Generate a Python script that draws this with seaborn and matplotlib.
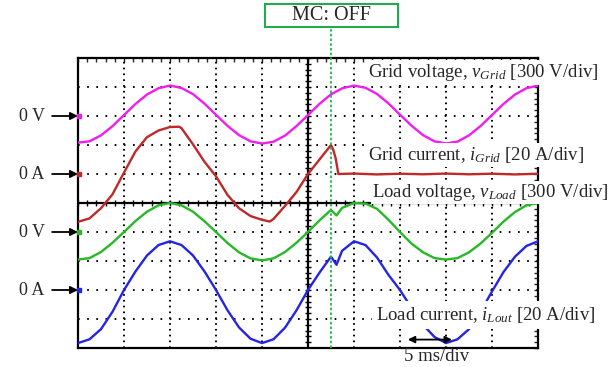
import numpy as np
import pandas as pd
import matplotlib
matplotlib.use("Agg")
import matplotlib.pyplot as plt
from matplotlib.patches import Rectangle
import seaborn as sns

# ---------------- data (read from the scope capture) ----------------
# time base in ms (5 ms/div, 10 divisions)
t_common_ms = np.arange(0, 50.01, 1.25)

v_grid_V = [-275, -262, -200, -105, 10, 125, 222, 287, 315, 290, 226, 128, 12, -102,
            -198, -262, -285, -266, -203, -104, 10, 126, 224, 288, 314, 292, 228, 130,
            14, -100, -198, -262, -284, -265, -200, -104, 10, 125, 222, 288, 314]

t_igrid_ms = [0, 1.25, 2.5, 3.75, 5, 6.25, 7.5, 8.75, 10, 11, 11.25, 12.5, 13.75, 15,
              16.25, 17.5, 18.75, 20, 20.85, 21.25, 22.5, 23.75, 25, 26.25, 27.5, 27.75,
              28, 28.3, 30, 32.5, 35, 37.5, 40, 42.5, 45, 47.5, 50]
i_grid_A = [-33, -30.6, -23.6, -14, 1, 15.6, 25.4, 30, 32.4, 32.6, 31.6, 20.4, 8.4, -1.6,
            -14.4, -23.6, -29, -31.6, -32.8, -31, -22, -12.4, 0, 10, 20, 16.6,
            11, 0, 0.3, -0.3, 0.2, -0.2, 0.3, -0.2, 0.2, -0.3, 0.2]

t_load_ms = [0, 1.25, 2.5, 3.75, 5, 6.25, 7.5, 8.75, 10, 11.25, 12.5, 13.75, 15, 16.25,
             17.5, 18.75, 20, 21.25, 22.5, 23.75, 25, 26.25, 27.5, 28.1, 28.7, 30, 31.25,
             32.5, 33.75, 35, 36.25, 37.5, 38.75, 40, 41.25, 42.5, 43.75, 45, 46.25,
             47.5, 48.75, 50]
v_load_V = [-285, -270, -207, -111, 0, 114, 210, 276, 300, 276, 210, 111, 0, -114,
            -210, -273, -294, -273, -207, -111, 0, 120, 228, 171, 249, 300, 294,
            240, 126, 0, -120, -210, -270, -285, -270, -210, -120, -9, 108,
            207, 276, 300]
i_lout_A = [-36.6, -34, -27, -15, 0, 12.8, 23.8, 31, 33.6, 31, 23.8, 12.8, 0, -14,
            -25.8, -33.6, -36.6, -34, -26, -14, 0, 12, 23, 17.4, 27, 33.6, 31,
            22.4, 10.4, 0, -12.4, -24, -32.4, -36.6, -34, -27, -15, -1, 12.4,
            23, 30.4, 33.6]

# channel settings: (name, time, values, units per div, zero position in div, colour)
channels = [
    ("v_grid", t_common_ms, v_grid_V, 300.0, 3, "#f01cf0"),
    ("i_grid", t_igrid_ms, i_grid_A, 20.0, 1, "#c0282a"),
    ("v_load", t_load_ms, v_load_V, 300.0, -1, "#26b826"),
    ("i_lout", t_load_ms, i_lout_A, 20.0, -3, "#2424e6"),
]
MS_PER_DIV = 5.0
T_SWITCH_MS = 27.5

frames = []
for name, t, vals, scale, zero, col in channels:
    frames.append(pd.DataFrame({
        "t": np.asarray(t, float) / MS_PER_DIV,
        "y": zero + np.asarray(vals, float) / scale,
        "trace": name,
    }))
df = pd.concat(frames, ignore_index=True)
palette = {c[0]: c[5] for c in channels}

# ---------------- style ----------------
sns.set_style("white")
plt.rcParams["font.family"] = ["Liberation Serif", "DejaVu Serif"]
plt.rcParams["mathtext.fontset"] = "custom"
plt.rcParams["mathtext.rm"] = "Liberation Serif"
plt.rcParams["mathtext.it"] = "Liberation Serif:italic"
plt.rcParams["lines.scale_dashes"] = False

W, H = 612, 367
fig = plt.figure(figsize=(W / 100, H / 100), dpi=100)
ax = fig.add_axes([78 / W, 1 - 348 / H, 460 / W, 290 / H])
ax.set_xlim(0, 10)
ax.set_ylim(-5, 5)

# dotted graticule
for yv in [-4, -3, -2, -1, 1, 2, 3, 4]:
    ax.axhline(yv, color="black", lw=1.4, linestyle=(0, (1.2, 5.4)), zorder=1)
for xv in [1, 2, 3, 4, 6, 7, 8, 9]:
    ax.axvline(xv, color="black", lw=1.4, linestyle=(0, (1.2, 2.98)), zorder=1)
# centre cross with small ticks
ax.axhline(0, color="black", lw=1.6, zorder=1)
ax.axvline(5, color="black", lw=1.6, zorder=1)
minor_x = np.arange(0, 10.001, 0.2)
minor_y = np.arange(-5, 5.001, 0.2)
ax.vlines(minor_x, -0.12, 0.12, color="black", lw=1.0, zorder=1)
ax.hlines(minor_y, 5 - 0.075, 5 + 0.075, color="black", lw=1.0, zorder=1)

ax.set_xticks(np.arange(0, 11, 1))
ax.set_yticks(np.arange(-5, 6, 1))
ax.set_xticks(minor_x, minor=True)
ax.set_yticks(minor_y, minor=True)
ax.tick_params(which="both", direction="in", length=3, width=1.0, top=True, right=True,
               labelbottom=False, labelleft=False, labeltop=False, labelright=False)
for sp in ax.spines.values():
    sp.set_linewidth(1.6)
    sp.set_color("black")
    sp.set_visible(True)

# traces
sns.lineplot(data=df, x="t", y="y", hue="trace", palette=palette, sort=False,
             estimator=None, legend=False, linewidth=1.7, ax=ax, zorder=3)
ax.set_xlabel("")
ax.set_ylabel("")

# ground markers
for name, t, vals, scale, zero, col in channels:
    ax.plot([0.02], [zero], marker="s", ms=2.5, color=col, clip_on=False, zorder=4)

# switching instant
ax.axvline(T_SWITCH_MS / MS_PER_DIV, ymin=0, ymax=1 + (58 - 27) / 290, color="#1fb84a",
           lw=1.3, linestyle=(0, (1.8, 1.6)), clip_on=False, zorder=5)
fig.add_artist(Rectangle((265 / W, 1 - 27 / H), 133 / W, 23 / H, transform=fig.transFigure,
                         fc="white", ec="#22aa4c", lw=1.5, zorder=6))
fig.text(331 / W, 1 - 16 / H, "MC: OFF", ha="center", va="center", fontsize=14.5, zorder=7)

# zero-level arrows
zero_labels = [("0 V", 3), ("0 A", 1), ("0 V", -1), ("0 A", -3)]
for lab, yv in zero_labels:
    ax.annotate(lab, xy=(0, yv), xycoords="data", xytext=(-24, 0),
                textcoords="offset points", ha="right", va="center", fontsize=13,
                arrowprops=dict(arrowstyle="-|>", color="black", lw=1.3, shrinkA=3,
                                shrinkB=0, mutation_scale=11),
                annotation_clip=False)

# channel labels
box = dict(fc="white", ec="none", pad=1.5)
fig.text(368 / W, 1 - 77 / H, r"Grid voltage, $v_{Grid}$ [300 V/div]", fontsize=13.5,
         ha="left", va="baseline", bbox=box, zorder=8)
fig.text(368 / W, 1 - 160 / H, r"Grid current, $i_{Grid}$ [20 A/div]", fontsize=13.5,
         ha="left", va="baseline", bbox=box, zorder=8)
fig.text(372 / W, 1 - 197 / H, r"Load voltage, $v_{Load}$ [300 V/div]", fontsize=13.5,
         ha="left", va="baseline", bbox=dict(fc="white", ec="none", pad=0.5), zorder=8)
fig.text(376 / W, 1 - 320 / H, r"Load current, $i_{Lout}$ [20 A/div]", fontsize=13.5,
         ha="left", va="baseline", bbox=dict(fc="white", ec="none", pad=3), zorder=8)

# time-scale arrow
ax.annotate("", xy=(8.13, -4.71), xytext=(7.17, -4.71), xycoords="data",
            arrowprops=dict(arrowstyle="<|-|>", color="black", lw=1.3, shrinkA=0, shrinkB=0,
                            mutation_scale=10), zorder=9)
fig.text(437 / W, 1 - 361 / H, "5 ms/div", ha="center", va="baseline", fontsize=13.5)

fig.savefig("out.png", dpi=100)
